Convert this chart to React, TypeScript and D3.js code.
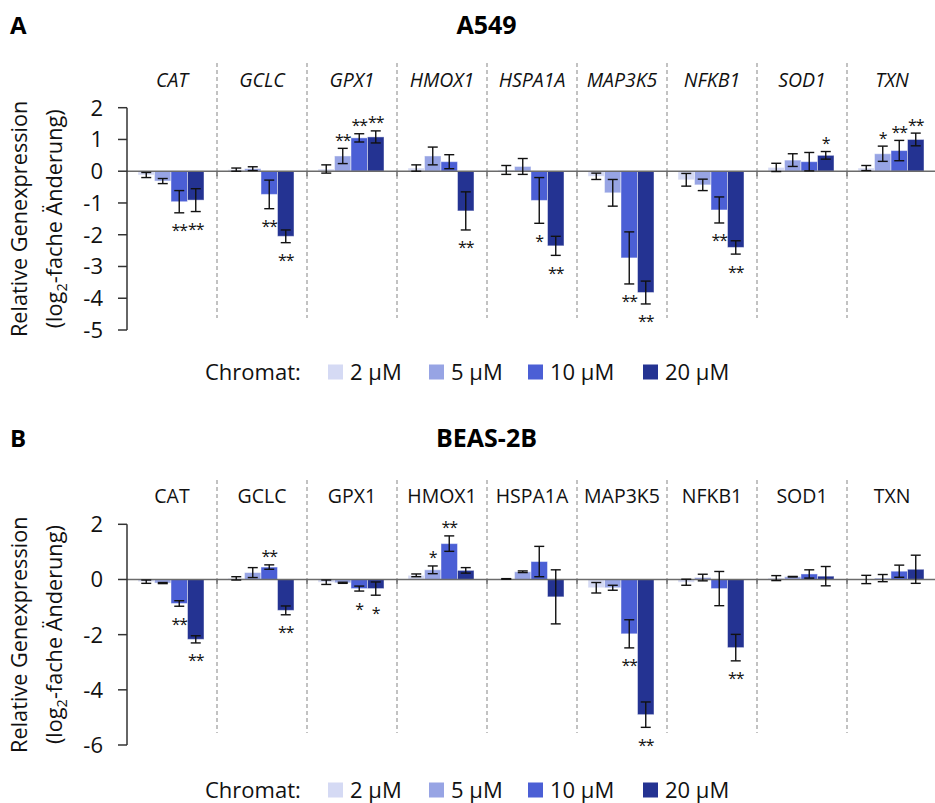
import React from 'react';
import * as d3 from 'd3';

const genes = ["CAT", "GCLC", "GPX1", "HMOX1", "HSPA1A", "MAP3K5", "NFKB1", "SOD1", "TXN"];
const doses = ["2 µM", "5 µM", "10 µM", "20 µM"];
const doseColors = ["#d5daf4", "#97a4e4", "#4b5fd5", "#243392"];

// Panel A: A549
const a549_2 = [-0.12, 0.05, 0.07, 0.1, 0.04, -0.16, -0.27, 0.12, 0.1];
const a549_5 = [-0.31, 0.08, 0.48, 0.48, 0.15, -0.68, -0.43, 0.35, 0.55];
const a549_10 = [-0.96, -0.73, 1.05, 0.3, -0.92, -2.73, -1.22, 0.3, 0.65];
const a549_20 = [-0.91, -2.05, 1.08, -1.25, -2.35, -3.82, -2.4, 0.5, 1.0];
const a549Err_2 = [0.08, 0.05, 0.13, 0.1, 0.14, 0.1, 0.2, 0.13, 0.08];
const a549Err_5 = [0.08, 0.06, 0.24, 0.28, 0.25, 0.42, 0.18, 0.2, 0.24];
const a549Err_10 = [0.35, 0.45, 0.13, 0.22, 0.72, 0.82, 0.41, 0.29, 0.32];
const a549Err_20 = [0.36, 0.2, 0.19, 0.6, 0.3, 0.36, 0.21, 0.12, 0.2];
const a549Sig_2 = ["", "", "", "", "", "", "", "", ""];
const a549Sig_5 = ["", "", "**", "", "", "", "", "", "*"];
const a549Sig_10 = ["**", "**", "**", "", "*", "**", "**", "", "**"];
const a549Sig_20 = ["**", "**", "**", "**", "**", "**", "**", "*", "**"];
const a549Ticks = [-5, -4, -3, -2, -1, 0, 1, 2];

// Panel B: BEAS-2B
const beas_2 = [-0.08, 0.04, -0.1, 0.15, 0.02, -0.3, -0.1, 0.05, 0.0];
const beas_5 = [-0.13, 0.25, -0.12, 0.35, 0.28, -0.3, 0.07, 0.1, 0.05];
const beas_10 = [-0.87, 0.45, -0.33, 1.3, 0.65, -1.97, -0.33, 0.2, 0.3];
const beas_20 = [-2.17, -1.12, -0.33, 0.33, -0.63, -4.9, -2.47, 0.12, 0.37];
const beasErr_2 = [0.06, 0.06, 0.08, 0.05, 0.01, 0.19, 0.11, 0.09, 0.15];
const beasErr_5 = [0.02, 0.18, 0.02, 0.14, 0.03, 0.09, 0.12, 0.01, 0.13];
const beasErr_10 = [0.1, 0.08, 0.09, 0.28, 0.55, 0.51, 0.62, 0.15, 0.22];
const beasErr_20 = [0.13, 0.16, 0.24, 0.1, 0.98, 0.46, 0.48, 0.35, 0.51];
const beasSig_2 = ["", "", "", "", "", "", "", "", ""];
const beasSig_5 = ["", "", "", "*", "", "", "", "", ""];
const beasSig_10 = ["**", "**", "*", "**", "", "**", "", "", ""];
const beasSig_20 = ["**", "**", "*", "", "", "**", "**", "", ""];
const beasTicks = [-6, -4, -2, 0, 2];

const FONT = "'Open Sans', 'Noto Sans', sans-serif";

type PanelProps = {
  letter: string;
  title: string;
  titleY: number;
  italic: boolean;
  vals: number[][];
  errs: number[][];
  sigs: string[][];
  ticks: number[];
  yTop: number;
  yBottom: number;
  labelY: number;
  divTop: number;
  divBottom: number;
  legendY: number;
};

function Panel(p: PanelProps) {
  const x0 = 127;
  const x1 = 937;
  const y = d3.scaleLinear().domain([p.ticks[0], p.ticks[p.ticks.length - 1]]).range([p.yBottom, p.yTop]);
  const xBand = d3.scaleBand<string>().domain(genes).range([x0, x1]);
  const inner = d3.scaleBand<string>().domain(doses).range([11, 77]);
  const bw = inner.bandwidth();
  const zeroY = y(0);
  const axisMid = (p.yTop + p.yBottom) / 2;
  const legendX = [328, 429, 528, 643];

  return (
    <g>
      <text x={10} y={p.titleY} fontFamily={FONT} fontWeight={700} fontSize={24}>{p.letter}</text>
      <text x={486.5} y={p.titleY} fontFamily={FONT} fontWeight={700} fontSize={25} textAnchor="middle">{p.title}</text>

      {/* dividers */}
      {genes.slice(1).map((g) => (
        <line key={"d" + g} x1={xBand(g)!} x2={xBand(g)!} y1={p.divTop} y2={p.divBottom}
          stroke="#9a9a9a" strokeWidth={1.2} strokeDasharray="4,3" />
      ))}
      {genes.map((g) => (
        <text key={"l" + g} x={xBand(g)! + xBand.bandwidth() / 2} y={p.labelY} textAnchor="middle"
          fontFamily={FONT} fontSize={19.5} fontStyle={p.italic ? "italic" : "normal"} fill="#111">{g}</text>
      ))}

      {/* bars */}
      {doses.map((d, di) => genes.map((g, gi) => {
        const v = p.vals[di][gi];
        const bx = xBand(g)! + inner(d)!;
        return (
          <rect key={"b" + di + g} x={bx} width={bw} y={Math.min(y(v), zeroY)} height={Math.abs(y(v) - zeroY)}
            fill={doseColors[di]} stroke="#ffffff" strokeOpacity={0.45} strokeWidth={1} />
        );
      }))}

      {/* zero line */}
      <line x1={x0} x2={935} y1={zeroY} y2={zeroY} stroke="#6b6b6b" strokeWidth={1.5} />
      {genes.slice(1).map((g) => (
        <line key={"t" + g} x1={xBand(g)!} x2={xBand(g)!} y1={zeroY} y2={zeroY + 5} stroke="#6b6b6b" strokeWidth={1.5} />
      ))}

      {/* error bars and stars */}
      {doses.map((d, di) => genes.map((g, gi) => {
        const v = p.vals[di][gi];
        const e = p.errs[di][gi];
        const cx = xBand(g)! + inner(d)! + bw / 2;
        const yHi = y(v + e);
        const yLo = y(v - e);
        const s = p.sigs[di][gi];
        const starCenter = v >= 0 ? yHi - 12 : yLo + 14;
        return (
          <g key={"e" + di + g}>
            <line x1={cx} x2={cx} y1={yHi} y2={yLo} stroke="#111" strokeWidth={1.4} />
            <line x1={cx - 5} x2={cx + 5} y1={yHi} y2={yHi} stroke="#111" strokeWidth={1.4} />
            <line x1={cx - 5} x2={cx + 5} y1={yLo} y2={yLo} stroke="#111" strokeWidth={1.4} />
            {s && (
              <text x={cx} y={starCenter + 9.5} textAnchor="middle" fontFamily={FONT} fontSize={16}
                letterSpacing={-1} fill="#111">{s}</text>
            )}
          </g>
        );
      }))}

      {/* y axis */}
      <line x1={x0} x2={x0} y1={p.yTop} y2={p.yBottom} stroke="#333" strokeWidth={1.5} />
      {p.ticks.map((t) => (
        <g key={"yt" + t}>
          <line x1={x0 - 9} x2={x0} y1={y(t)} y2={y(t)} stroke="#333" strokeWidth={1.5} />
          <text x={x0 - 24} y={y(t)} dy="0.36em" textAnchor="end" fontFamily={FONT} fontSize={22} fill="#111">{t}</text>
        </g>
      ))}
      <text transform={`translate(27,${axisMid}) rotate(-90)`} textAnchor="middle" fontFamily={FONT} fontSize={21.7} fill="#111">Relative Genexpression</text>
      <text transform={`translate(61.5,${axisMid}) rotate(-90)`} textAnchor="middle" fontFamily={FONT} fontSize={21.7} fill="#111">
        (log<tspan fontSize={14.5} dy={5}>2</tspan><tspan dy={-5}>-fache Änderung)</tspan>
      </text>

      {/* legend */}
      <text x={205} y={p.legendY} dy="0.35em" fontFamily={FONT} fontSize={22} fill="#111">Chromat:</text>
      {doses.map((d, di) => (
        <g key={"lg" + d}>
          <rect x={legendX[di]} y={p.legendY - 7.5} width={15} height={15} fill={doseColors[di]} />
          <text x={legendX[di] + 22} y={p.legendY} dy="0.35em" fontFamily={FONT} fontSize={22} fill="#111">{d}</text>
        </g>
      ))}
    </g>
  );
}

export default function App() {
  return (
    <svg width={935} height={803} style={{ position: "absolute", left: 0, top: 0, background: "#fff" }}>
      <rect width={935} height={803} fill="#fff" />
      <Panel letter="A" title="A549" titleY={34} italic={true}
        vals={[a549_2, a549_5, a549_10, a549_20]}
        errs={[a549Err_2, a549Err_5, a549Err_10, a549Err_20]}
        sigs={[a549Sig_2, a549Sig_5, a549Sig_10, a549Sig_20]}
        ticks={a549Ticks} yTop={107.7} yBottom={330} labelY={87} divTop={63} divBottom={318} legendY={372} />
      <Panel letter="B" title="BEAS-2B" titleY={447} italic={false}
        vals={[beas_2, beas_5, beas_10, beas_20]}
        errs={[beasErr_2, beasErr_5, beasErr_10, beasErr_20]}
        sigs={[beasSig_2, beasSig_5, beasSig_10, beasSig_20]}
        ticks={beasTicks} yTop={524.3} yBottom={745} labelY={503} divTop={480} divBottom={733} legendY={790} />
    </svg>
  );
}
